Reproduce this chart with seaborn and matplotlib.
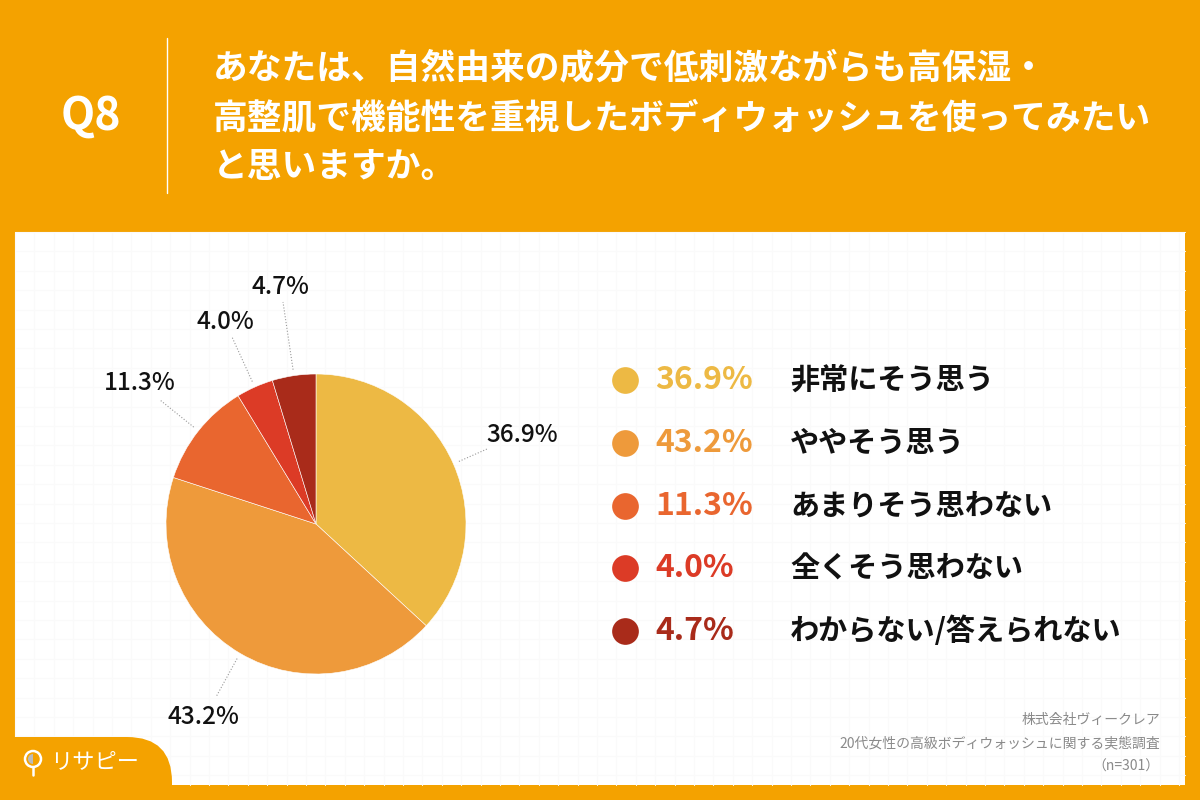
import numpy as np
import matplotlib.pyplot as plt
import matplotlib.patches as mpatches
import seaborn as sns

# data
labels = ["非常にそう思う", "ややそう思う", "あまりそう思わない", "全くそう思わない", "わからない/答えられない"]
values = [36.9, 43.2, 11.3, 4.0, 4.7]
colors = ["#EDB944", "#EE9A3B", "#E9662F", "#DC3B26", "#A92B1A"]
question = "Q8"
title_lines = [
    "あなたは、自然由来の成分で低刺激ながらも高保湿・",
    "高整肌で機能性を重視したボディウォッシュを使ってみたい",
    "と思いますか。",
]
source_lines = ["株式会社ヴィークレア", "20代女性の高級ボディウォッシュに関する実態調査", "（n=301）"]

sns.set_theme(style="white")
plt.rcParams["font.family"] = ["Noto Sans CJK JP", "DejaVu Sans"]

ORANGE = "#F4A200"

fig = plt.figure(figsize=(12, 8), dpi=100)
fig.patch.set_facecolor(ORANGE)

# background / decoration axes in pixel coords
bg = fig.add_axes([0, 0, 1, 1])
bg.set_xlim(0, 1200)
bg.set_ylim(800, 0)
bg.axis("off")

bg.add_patch(mpatches.Rectangle((15, 232), 1170, 553, facecolor="white", edgecolor="none"))
for gx in np.arange(15, 1185, 19.4):
    bg.plot([gx, gx], [232, 785], color="#fafafa", lw=0.8, zorder=1)
for gy in np.arange(232, 785, 19.4):
    bg.plot([15, 1185], [gy, gy], color="#fafafa", lw=0.8, zorder=1)

# header
bg.text(91, 117, question, color="white", fontsize=32, fontweight="bold",
        ha="center", va="center")
bg.plot([167, 167], [38, 193], color="white", lw=1)
for i, line in enumerate(title_lines):
    bg.text(213, 68 + i * 49.5, line, color="white", fontsize=25, fontweight="bold",
            ha="left", va="center")

# legend
for i, (lab, val, col) in enumerate(zip(labels, values, colors)):
    y = 380 + i * 62.8
    bg.scatter([625], [y], s=370, color=col, zorder=3, linewidths=0)
    bg.text(655, y, f"{val:.1f}%", color=col, fontsize=23, fontweight="bold",
            ha="left", va="center")
    bg.text(790, y, lab, color="#111111", fontsize=21, fontweight="bold",
            ha="left", va="center")

# source
for i, line in enumerate(source_lines):
    bg.text(1160, 720 + i * 23.5, line, color="#8a8a8a", fontsize=10,
            ha="right", va="center")

# logo tab
bg.add_patch(mpatches.FancyBboxPatch((-60, 737), 232, 110,
                                     boxstyle="round,pad=0,rounding_size=45",
                                     facecolor=ORANGE, edgecolor="none", zorder=4))
bg.add_patch(mpatches.Circle((33, 759), 8, facecolor="none", edgecolor="white", lw=1.8, zorder=5))
bg.add_patch(mpatches.Wedge((33, 759), 5, 90, 270, facecolor="#bbbbbb", edgecolor="none", zorder=5))
bg.plot([33, 33], [767, 775], color="white", lw=1.8, zorder=5)
bg.text(50, 762, "リサピー", color="white", fontsize=16, ha="left", va="center", zorder=5)

# pie
cx, cy, r = 316, 524, 150
ax = fig.add_axes([(cx - r) / 1200, (800 - cy - r) / 800, 2 * r / 1200, 2 * r / 800])
wedges, _ = ax.pie(values, colors=colors, startangle=90, counterclock=False,
                   wedgeprops=dict(edgecolor="white", linewidth=0.4))
ax.set_xlim(-1, 1)
ax.set_ylim(-1, 1)
ax.axis("off")


def px2pie(px, py):
    return (px - cx) / r, (cy - py) / r


label_text_px = [(522, 435), (203, 717), (140, 383), (225, 322), (280, 287)]
line_end_px = [(487, 449), (216, 697), (160, 400), (232, 337), (283, 302)]
for w, val, tp, lp in zip(wedges, values, label_text_px, line_end_px):
    th = np.deg2rad((w.theta1 + w.theta2) / 2)
    sx, sy = 1.04 * np.cos(th), 1.04 * np.sin(th)
    ex, ey = px2pie(*lp)
    ax.plot([sx, ex], [sy, ey], color="#999999", lw=0.8, ls=":", clip_on=False)
    tx, ty = px2pie(*tp)
    ax.text(tx, ty, f"{val:.1f}%", fontsize=17.5, color="#111111", ha="center", va="center",
            fontweight="medium")

fig.savefig("out.png", dpi=100, facecolor=ORANGE)
